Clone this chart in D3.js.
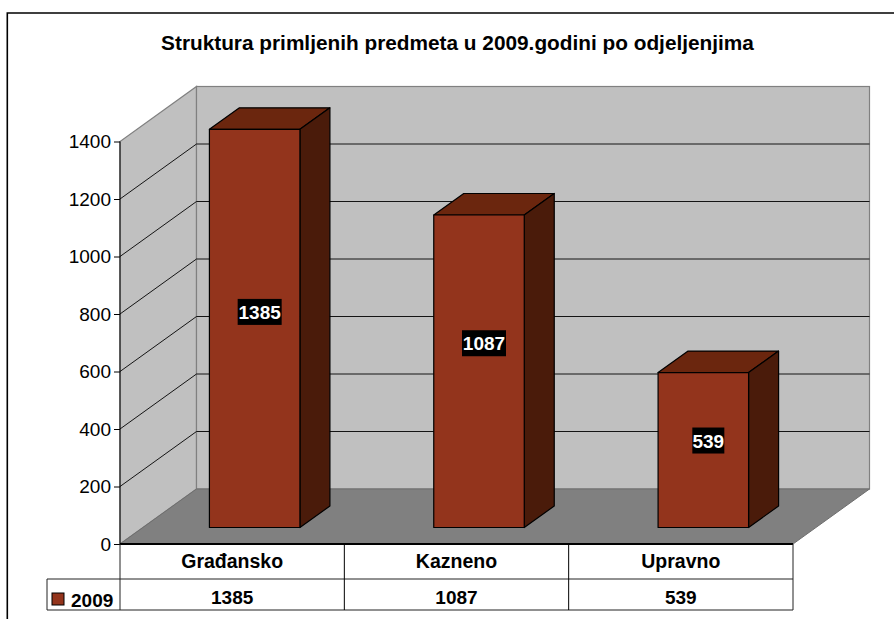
<!DOCTYPE html>
<html><head><meta charset="utf-8">
<script src="https://d3js.org/d3.v7.min.js"></script>
<style>html,body{margin:0;padding:0;background:#fff;overflow:hidden}svg{display:block}text{font-family:"Liberation Sans",Arial,sans-serif}</style>
</head><body><svg id="c" width="894" height="619"></svg>
<script>
const title = "Struktura primljenih predmeta u 2009.godini po odjeljenjima";
const categories = ["Građansko","Kazneno","Upravno"];
const values = [1385,1087,539];
const seriesName = "2009";
const yTicks = [0,200,400,600,800,1000,1200,1400];

const svg = d3.select("#c");
svg.append("path").attr("d","M7.3,640V13H900").attr("fill","none").attr("stroke","#000").attr("stroke-width",1.6);

const x = d3.scaleBand().domain(categories).range([120,793]);
const y = d3.scaleLinear().domain([0,1400]).range([544,141.5]);
const dx=76.5, dy=-55;        // depth of the chart box
const bdx=30, bdy=-21.5;      // depth of a bar
const offX=22.5, offY=-16.5;  // bar position in the box
const barW=90.5;
const labelShift=[-16.5,-28,-9.5]; // label offset from the bar's middle
const line=(pts)=>"M"+pts.map(p=>p.join(",")).join("L");

// walls
svg.append("path").attr("d",line([[120,y(0)],[120+dx,y(0)+dy],[120+dx,y(1400)+dy],[120,y(1400)]])+"Z").attr("fill","#c0c0c0").attr("stroke","#808080").attr("stroke-width",1.2);
svg.append("rect").attr("x",120+dx).attr("y",y(1400)+dy).attr("width",673).attr("height",y(0)-y(1400)).attr("fill","#c0c0c0").attr("stroke","#808080").attr("stroke-width",1.2);
// grid
yTicks.filter(d=>d>0&&d<1400).forEach(d=>{
  svg.append("path").attr("d",line([[120,y(d)],[120+dx,y(d)+dy],[793+dx,y(d)+dy]])).attr("fill","none").attr("stroke","#000").attr("stroke-width",0.9);
});
// floor
svg.append("path").attr("d",line([[120,y(0)],[120+dx,y(0)+dy],[793+dx,y(0)+dy],[793,y(0)]])+"Z").attr("fill","#808080").attr("stroke","#6e6e6e").attr("stroke-width",1);

// bars
categories.forEach((c,i)=>{
  const cx=x(c)+x.bandwidth()/2+offX;
  const x0=cx-barW/2,x1=cx+barW/2,yb=y(0)+offY,yt=y(values[i])+offY;
  const g=svg.append("g").attr("stroke","#000").attr("stroke-width",1.2).attr("stroke-linejoin","round");
  g.append("path").attr("d",line([[x0,yt],[x0+bdx,yt+bdy],[x1+bdx,yt+bdy],[x1,yt]])+"Z").attr("fill","#6b260e");
  g.append("path").attr("d",line([[x1,yt],[x1+bdx,yt+bdy],[x1+bdx,yb+bdy],[x1,yb]])+"Z").attr("fill","#4a1b0a");
  g.append("rect").attr("x",x0).attr("y",yt).attr("width",barW).attr("height",yb-yt).attr("fill","#93341c");
  const ly=(yt+yb)/2+labelShift[i];
  const lw=i==2?32:44;
  const lcx=cx+5;
  svg.append("rect").attr("x",lcx-lw/2).attr("y",ly-13).attr("width",lw).attr("height",26).attr("fill","#000");
  svg.append("text").attr("x",lcx).attr("y",ly+7).attr("text-anchor","middle").attr("font-size",19).attr("font-weight","bold").attr("fill","#fff").text(values[i]);
});

// y axis
const ax=svg.append("g").attr("transform","translate(120,0)").call(d3.axisLeft(y).tickValues(yTicks).tickSize(6).tickPadding(3).tickFormat(d3.format("d")));
ax.select(".domain").attr("stroke","#000").attr("d",`M0,${y(0)}V${y(1400)}`);
ax.selectAll("line").attr("stroke","#000");
ax.selectAll("text").attr("font-size",19).attr("fill","#000").attr("font-family",'"Liberation Sans",Arial,sans-serif');

// table
const t=svg.append("g");
t.append("path").attr("d",`M120,544H793`).attr("stroke","#000").attr("stroke-width",1.8);
t.append("path").attr("d",`M793,544V610H47V579H793M120,544V610`).attr("fill","none").attr("stroke","#222").attr("stroke-width",1);
categories.forEach((c,i)=>{
  const xl=x(c);
  if(i>0) t.append("line").attr("x1",xl).attr("x2",xl).attr("y1",544).attr("y2",610).attr("stroke","#000");
  t.append("text").attr("x",xl+x.bandwidth()/2).attr("y",568).attr("text-anchor","middle").attr("font-size",19.5).attr("font-weight","bold").text(c);
  t.append("text").attr("x",xl+x.bandwidth()/2).attr("y",604).attr("text-anchor","middle").attr("font-size",19).attr("font-weight","bold").text(values[i]);
});
t.append("rect").attr("x",52).attr("y",593).attr("width",12).attr("height",12).attr("fill","#93341c").attr("stroke","#000");
t.append("text").attr("x",71).attr("y",606.5).attr("font-size",19).attr("font-weight","bold").text(seriesName);

svg.append("text").attr("x",457.5).attr("y",50).attr("text-anchor","middle").attr("font-size",20.8).attr("font-weight","bold").text(title);
</script></body></html>
